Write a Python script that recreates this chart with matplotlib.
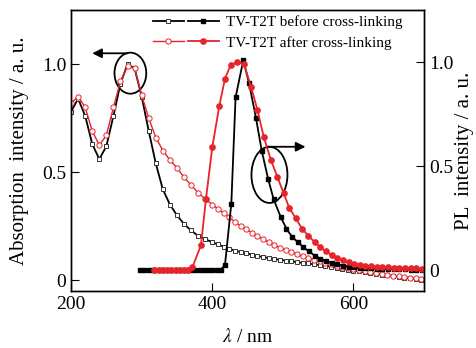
import numpy as np
import matplotlib
matplotlib.use('Agg')
from matplotlib import pyplot as plt
from matplotlib.patches import Ellipse
from matplotlib.legend_handler import HandlerTuple

plt.rcParams['font.family'] = ['Liberation Serif', 'DejaVu Serif']
plt.rcParams['mathtext.fontset'] = 'stix'

# absorption spectra (left axis)
abs_x = np.concatenate([np.arange(200, 401, 10), np.arange(408, 697, 8)])
abs_before = [0.78, 0.84, 0.76, 0.63, 0.56, 0.62, 0.76, 0.91, 1.00, 0.98,
              0.85, 0.69, 0.54, 0.42, 0.35, 0.30, 0.26, 0.23, 0.205, 0.19,
              0.175,
              0.165, 0.155, 0.145, 0.137, 0.130, 0.124, 0.118, 0.112, 0.107,
              0.102, 0.098, 0.094, 0.090, 0.087, 0.083, 0.080, 0.077, 0.073,
              0.070, 0.066, 0.062, 0.058, 0.053, 0.048, 0.044, 0.040, 0.036,
              0.032, 0.028, 0.025, 0.022, 0.018, 0.015, 0.012, 0.008, 0.005,
              0.002]
abs_after = [0.82, 0.85, 0.80, 0.69, 0.625, 0.67, 0.80, 0.92, 0.99, 0.98,
             0.856, 0.75, 0.66, 0.60, 0.556, 0.52, 0.476, 0.44, 0.405, 0.375,
             0.35,
             0.33, 0.31, 0.29, 0.27, 0.25, 0.235, 0.22, 0.205, 0.19,
             0.175, 0.162, 0.150, 0.139, 0.128, 0.119, 0.110, 0.102, 0.094,
             0.087, 0.080, 0.073, 0.067, 0.061, 0.055, 0.050, 0.045, 0.040,
             0.036, 0.032, 0.028, 0.025, 0.021, 0.018, 0.015, 0.012, 0.009,
             0.006]

# PL spectra (right axis)
pl_before_x = [298, 304, 310, 316, 322, 328, 334, 340, 346, 352, 358, 364,
               370, 376, 382, 388, 394, 400, 406, 412,
               418, 427, 433, 444, 452, 462, 470, 479, 487, 497, 505, 513,
               521, 529, 537, 545, 553, 561, 569, 577, 585, 593, 601, 609,
               617, 625, 633, 641, 649, 657, 665, 673, 681, 689, 697]
pl_before = [0.0, 0.0, 0.0, 0.0, 0.0, 0.0, 0.0, 0.0, 0.0, 0.0, 0.0, 0.0,
             0.0, 0.0, 0.0, 0.0, 0.0, 0.0, 0.0, 0.002,
             0.025, 0.32, 0.83, 1.01, 0.90, 0.73, 0.575, 0.44, 0.34, 0.255,
             0.20, 0.16, 0.135, 0.11, 0.09, 0.07, 0.055, 0.045, 0.035, 0.028,
             0.022, 0.017, 0.013, 0.011, 0.009, 0.008, 0.007, 0.006, 0.005,
             0.005, 0.004, 0.004, 0.003, 0.003, 0.002]
pl_after_x = [318, 324, 330, 336, 342, 348, 354, 360, 366,
              372, 384, 391, 400, 410, 418, 426, 435, 445, 455, 464, 473,
              483, 492, 501, 509, 518, 527, 536, 545, 553, 561, 569, 577,
              585, 593, 601, 609, 617, 625, 633, 641, 649, 657, 665, 673,
              681, 689, 697]
pl_after = [0.0, 0.0, 0.0, 0.0, 0.0, 0.0, 0.0, 0.0, 0.003,
            0.015, 0.12, 0.34, 0.59, 0.79, 0.92, 0.985, 1.0, 0.99, 0.88,
            0.77, 0.64, 0.53, 0.45, 0.37, 0.30, 0.25, 0.20, 0.165, 0.135,
            0.11, 0.09, 0.072, 0.058, 0.047, 0.038, 0.031, 0.026, 0.022,
            0.019, 0.017, 0.015, 0.013, 0.012, 0.011, 0.010, 0.009, 0.008,
            0.007]

red = '#e8232a'

fig = plt.figure(figsize=(4.77, 3.48), dpi=100)
ax = fig.add_axes([0.149, 0.164, 0.740, 0.807])
ax2 = ax.twinx()

a1, = ax.plot(abs_x, abs_before, '-', color='k', lw=1.3, marker='s', ms=3.4,
              mfc='white', mec='#333333', mew=0.7)
a2, = ax.plot(abs_x, abs_after, '-', color=red, lw=1.0, marker='o', ms=3.8,
              mfc='white', mec=red, mew=0.7)
p1, = ax2.plot(pl_before_x, pl_before, '-', color='k', lw=1.3, marker='s',
               ms=3.4, mfc='k', mec='k')
p2, = ax2.plot(pl_after_x, pl_after, '-', color=red, lw=1.3, marker='o',
               ms=3.8, mfc=red, mec=red)

ax.set_xlim(200, 700)
ax.set_ylim(-0.05, 1.25)
ax2.set_ylim(-0.10, 1.25)
ax.set_xticks([200, 400, 600])
ax.set_yticks([0, 0.5, 1.0], ['0', '0.5', '1.0'])
ax2.set_yticks([0, 0.5, 1.0], ['0', '0.5', '1.0'])
ax.tick_params(axis='both', direction='in', length=6, width=0.8, labelsize=14)
ax2.tick_params(axis='y', direction='in', length=6, width=0.8, labelsize=14)
for s in list(ax.spines.values()) + list(ax2.spines.values()):
    s.set_linewidth(1.0)

ax.set_xlabel(r'$\lambda$ / nm', fontsize=14, labelpad=11)
ax.set_ylabel('Absorption  intensity / a. u.', fontsize=15, labelpad=9)
ax2.set_ylabel('PL  intensity / a. u.', fontsize=15, labelpad=1)

# circles and arrows
ax.add_patch(Ellipse((284, 0.958), 45, 0.19, fill=False, ec='k', lw=1.3))
ax.annotate('', xy=(226, 1.05), xytext=(284, 1.05),
            arrowprops=dict(arrowstyle='-|>', color='k', lw=1.3,
                            mutation_scale=14))
ax2.add_patch(Ellipse((481, 0.458), 51, 0.27, fill=False, ec='k', lw=1.3))
ax2.annotate('', xy=(536, 0.593), xytext=(475, 0.593),
             arrowprops=dict(arrowstyle='-|>', color='k', lw=1.3,
                             mutation_scale=14))

ax2.legend([(a1, p1), (a2, p2)],
           ['TV-T2T before cross-linking', 'TV-T2T after cross-linking'],
           handler_map={tuple: HandlerTuple(ndivide=None, pad=0.3)},
           loc='upper left', bbox_to_anchor=(0.232, 0.98), frameon=False,
           fontsize=11, handlelength=4.3, handletextpad=0.5, borderpad=0,
           labelspacing=0.42, borderaxespad=0)

fig.savefig('out.png', dpi=100)
